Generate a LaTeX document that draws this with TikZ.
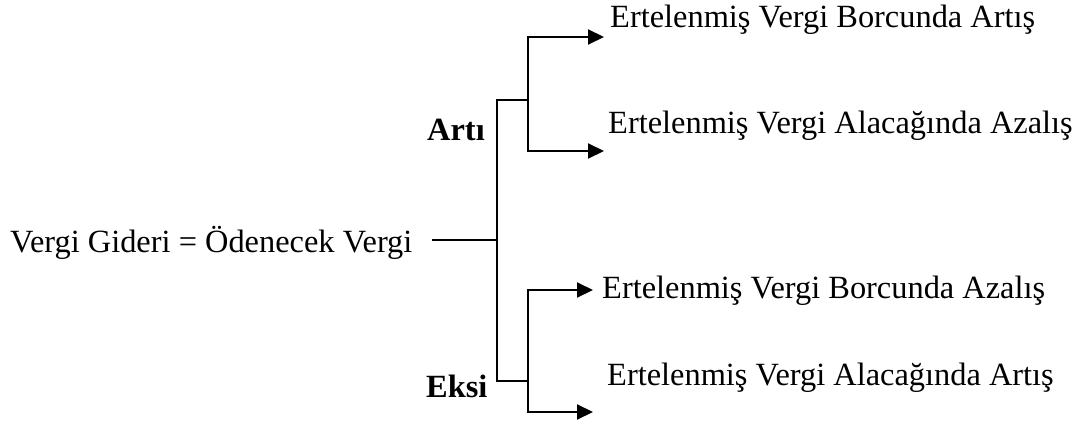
\documentclass[tikz,border=0pt]{standalone}
\usepackage{fontspec}
\setmainfont{Liberation Serif}
\usetikzlibrary{arrows.meta}
\begin{document}
\begin{tikzpicture}[x=1pt,y=-1pt,
  lbl/.style={anchor=base west,inner sep=0pt,font=\fontsize{32.4}{38}\selectfont},
  sgn/.style={anchor=base west,inner sep=0pt,font=\fontsize{32.4}{38}\selectfont\bfseries},
  conn/.style={line width=2pt},
  arr/.style={conn,-{Triangle[length=16pt,width=15pt]}}]
\useasboundingbox (0,0) rectangle (1081,425);
% labels
\node[lbl] (src) at (10,252) {Vergi Gideri = Ödenecek Vergi};
\node[sgn] (plus) at (427,140) {Artı};
\node[sgn] (minus) at (426,397) {Eksi};
\node[lbl] (t1) at (610,28) {Ertelenmiş Vergi Borcunda Artış};
\node[lbl] (t2) at (608,133) {Ertelenmiş Vergi Alacağında Azalış};
\node[lbl] (t3) at (602,298) {Ertelenmiş Vergi Borcunda Azalış};
\node[lbl] (t4) at (607,385) {Ertelenmiş Vergi Alacağında Artış};
% junction points
\coordinate (s0) at (432,240);
\coordinate (m) at (497,240);
\coordinate (mt) at (497,100);
\coordinate (mb) at (497,381);
\coordinate (pj) at (528,100);
\coordinate (nj) at (528,381);
\coordinate (e1) at (604,37);
\coordinate (e2) at (604,151);
\coordinate (e3) at (593,290);
\coordinate (e4) at (593,412);
% trunk
\draw[conn] (s0) -- (m);
\draw[conn] (pj) -- (mt) -- (mb) -- (nj);
% branches
\draw[arr] (pj) |- (e1);
\draw[arr] (pj) |- (e2);
\draw[arr] (nj) |- (e3);
\draw[arr] (nj) |- (e4);
\end{tikzpicture}
\end{document}
